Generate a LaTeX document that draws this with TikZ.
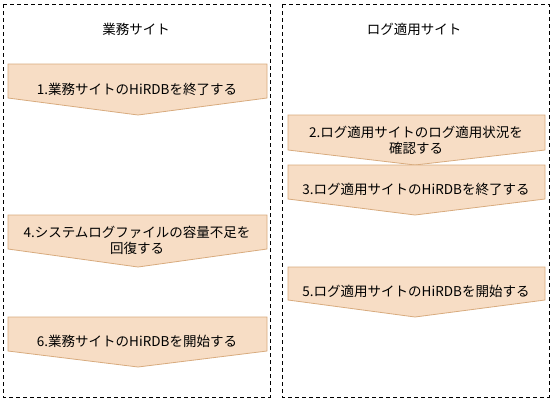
\documentclass[tikz,border=0pt]{standalone}
\usepackage{fontspec}
\setmainfont{Noto Sans CJK JP}
\definecolor{stepfill}{HTML}{F7DDC5}
\definecolor{stepedge}{HTML}{D8AB7E}
\begin{document}
\begin{tikzpicture}[x=1bp,y=-1bp,
  site/.style={draw=black,line width=0.8bp,dash pattern=on 4bp off 3bp},
  banner/.style={fill=stepfill,draw=stepedge,line width=0.8bp},
  lbl/.style={font=\fontsize{13.5bp}{16bp}\selectfont,align=center,inner sep=0pt}]
\useasboundingbox (0,0) rectangle (552,401);
% sites
\draw[site] (3,4) rectangle (270,397);
\draw[site] (282,4) rectangle (549,397);
\node[lbl] (t1) at (136,29) {業務サイト};
\node[lbl] (t2) at (414,29) {ログ適用サイト};
% banners: left x 8..267, right x 288..545
\newcommand{\bannerL}[3]{\draw[banner] (8,#1) -- (267,#1) -- (267,#2) -- (138,#3) -- (8,#2) -- cycle;}
\newcommand{\bannerR}[3]{\draw[banner] (288,#1) -- (545,#1) -- (545,#2) -- (415,#3) -- (288,#2) -- cycle;}
\bannerL{64}{98}{115}
\bannerL{215}{249}{267}
\bannerL{317}{351}{367}
\bannerR{115}{150}{165}
\bannerR{165}{199}{215}
\bannerR{267}{300}{317}
\node[lbl] (s1) at (137,89) {1.業務サイトのHiRDBを終了する};
\node[lbl] (s4) at (137,240) {4.システムログファイルの容量不足を\\回復する};
\node[lbl] (s6) at (137,341) {6.業務サイトのHiRDBを開始する};
\node[lbl] (s2) at (416,140) {2.ログ適用サイトのログ適用状況を\\確認する};
\node[lbl] (s3) at (416,189) {3.ログ適用サイトのHiRDBを終了する};
\node[lbl] (s5) at (416,291) {5.ログ適用サイトのHiRDBを開始する};
\end{tikzpicture}
\end{document}
